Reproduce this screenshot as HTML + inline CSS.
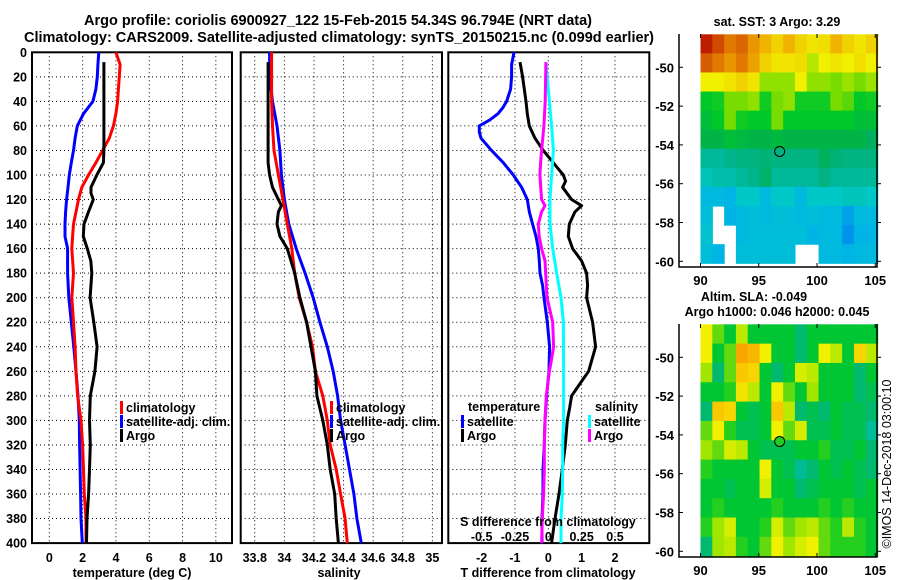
<!DOCTYPE html>
<html><head><meta charset="utf-8"><style>
html,body{margin:0;padding:0;background:#fff;}
svg{display:block;font-family:"Liberation Sans",Arial,sans-serif;font-weight:bold;}
</style></head><body>
<svg id="fig" width="900" height="580" viewBox="0 0 900 580" xmlns="http://www.w3.org/2000/svg">
<text x="338" y="25" font-size="14.5" text-anchor="middle" textLength="508" lengthAdjust="spacingAndGlyphs">Argo profile: coriolis 6900927_122 15-Feb-2015 54.34S 96.794E (NRT data)</text>
<text x="339" y="42" font-size="14.5" text-anchor="middle" textLength="630" lengthAdjust="spacingAndGlyphs">Climatology: CARS2009. Satellite-adjusted climatology: synTS_20150215.nc (0.099d earlier)</text>
<g id="layer"></g>
</svg>
<script>
// ---------- data ----------
const tDepth = [0,10,20,30,40,50,60,70,80,90,100,110,120,130,140,150,160,180,200,220,240,260,280,300,320,340,360,380,400];
const tClim  = [4.0,4.25,4.2,4.15,4.1,4.0,3.85,3.6,3.2,2.8,2.35,1.95,1.75,1.6,1.45,1.4,1.35,1.45,1.35,1.45,1.55,1.6,1.7,1.9,2.0,2.05,2.1,2.2,2.2];
const tSat   = [2.97,2.92,2.88,2.8,2.62,2.05,1.68,1.55,1.45,1.32,1.2,1.12,1.04,0.98,0.94,0.94,1.1,1.1,1.17,1.32,1.47,1.6,1.72,1.8,1.82,1.85,1.88,1.9,1.98];
const tArgoDepth = [8,20,40,60,80,90,100,110,115,120,130,140,150,160,170,180,200,220,240,260,280,300,320,340,360,380,400];
const tArgo  = [3.28,3.28,3.28,3.28,3.28,3.25,2.85,2.5,2.5,2.64,2.35,2.08,2.04,2.28,2.49,2.55,2.45,2.67,2.87,2.74,2.46,2.41,2.46,2.41,2.36,2.26,2.23];

const sDepth = [0,20,40,60,80,100,120,140,160,180,200,220,240,260,280,300,320,340,360,380,400];
const sClim  = [33.914,33.914,33.914,33.92,33.93,33.96,33.99,34.02,34.05,34.07,34.10,34.15,34.19,34.21,34.26,34.29,34.31,34.35,34.38,34.41,34.425];
const sSat   = [33.90,33.90,33.92,33.95,33.97,33.98,34.00,34.03,34.08,34.14,34.195,34.24,34.29,34.33,34.36,34.38,34.41,34.44,34.47,34.49,34.52];
const sArgoDepth = [8,20,60,90,100,110,120,125,130,140,150,160,180,200,220,240,260,280,300,320,340,360,380,400];
const sArgo  = [33.89,33.89,33.89,33.89,33.90,33.92,33.96,33.98,33.96,33.95,33.97,34.02,34.07,34.105,34.15,34.18,34.21,34.22,34.26,34.29,34.31,34.34,34.35,34.365];

const dtSatDepth = [0,10,20,30,40,45,50,55,60,65,70,80,90,100,110,120,130,140,150,160,170,180,190,200,220,240,260,280,300,320,340,360,380,400];
const dtSat  = [-1.03,-1.1,-1.1,-1.13,-1.25,-1.36,-1.51,-1.75,-2.07,-2.07,-2.02,-1.7,-1.35,-1.05,-0.8,-0.63,-0.57,-0.47,-0.37,-0.3,-0.27,-0.25,-0.17,-0.13,-0.03,0.04,0.02,-0.05,-0.1,-0.12,-0.16,-0.16,-0.19,-0.19];
const dtArgoDepth = [8,20,40,50,60,70,80,90,100,105,110,120,125,130,140,150,160,170,180,190,200,220,240,260,270,280,290,300,320,340,360,380,400];
const dtArgo = [-0.85,-0.77,-0.67,-0.63,-0.57,-0.4,-0.15,0.15,0.45,0.52,0.43,0.7,1.0,0.8,0.63,0.6,0.73,1.0,1.15,1.18,1.15,1.33,1.42,1.21,0.95,0.7,0.64,0.57,0.51,0.42,0.32,0.2,0.1];
const dsSatDepth = [8,40,60,80,100,120,140,160,180,200,220,260,300,320,340,360,380,400];
const dsSat  = [-0.018,0.008,0.025,0.038,0.025,0.013,0.013,0.033,0.063,0.095,0.113,0.115,0.115,0.108,0.108,0.105,0.095,0.095];
const dsArgoDepth = [8,40,60,80,90,100,120,125,130,140,150,160,170,200,220,240,250,260,280,300,320,340,360,380,400];
const dsArgo = [-0.018,-0.023,-0.033,-0.05,-0.058,-0.063,-0.05,-0.025,-0.05,-0.075,-0.068,-0.05,-0.025,-0.01,0.033,0.04,0.025,0.008,-0.015,-0.025,-0.03,-0.03,-0.035,-0.045,-0.05];

const depthTicks = [0,20,40,60,80,100,120,140,160,180,200,220,240,260,280,300,320,340,360,380,400];
const tTicks = [0,2,4,6,8,10];
const sTicks = [33.8,34,34.2,34.4,34.6,34.8,35];
const sTickLabels = ["33.8","34","34.2","34.4","34.6","34.8","35"];
const dTicks = [-2,-1,0,1,2];
const dsTicks = [-0.5,-0.25,0,0.25,0.5];
const dsTickLabels = ["-0.5","-0.25","0","0.25","0.5"];

// SST map grid (rows: lat -48.3 -> -60.1, cols: lon 90 -> 105.2); null = no data
const sstGrid = [
[9,8.5,8,8.2,7.5,7,6.5,7,6.5,6.2,6.3,7,6.5,6.2,6.5],
[8.3,8,7.5,8,7.3,6.5,6.2,6.2,6.3,5.5,6,6.2,6,6.3,6],
[6,6,6.2,6.5,6.2,5.2,5.2,5.2,6,5.2,5.2,5,5.3,5,5.3],
[4.2,4.3,5,5,5.2,4.3,5,5.2,4.3,4.3,4.3,5,4.8,4.2,4.3],
[4,4.2,5,4.3,4.2,4.2,5,4.2,4.2,4.2,4.2,4.2,4.2,4,4],
[3.8,3.8,4,3.9,3.8,3.8,3.9,3.8,3.8,3.8,3.8,3.8,3.8,3.8,3.6],
[3.1,3.1,3.2,3.3,3.3,3.4,3.3,3.3,3.3,3.3,3.6,3.4,3.3,3.3,3.3],
[2.9,3,3,3.1,3.2,3.5,3.1,3.1,3.1,3.1,3.3,3.1,3.1,3.1,3.1],
[2.5,2.5,2.4,2.8,2.8,2.5,2.8,2.8,2.5,2.8,2.8,2.8,2.9,2.9,2.8],
[2.6,null,2.4,2.5,2.6,2.5,2.6,2.6,2.5,2.6,2.5,2.5,2.3,2.5,2.5],
[2.7,null,null,2.5,2.6,2.6,2.6,2.6,2.6,2.4,2.5,2.5,2.2,2.4,2.4],
[2.6,2.4,null,2.6,2.6,2.6,2.6,2.6,null,null,2.5,2.5,2.4,2.5,2.5]
];
// SLA map grid, 0 = low (teal) -> 1 = high (orange)
const slaGrid = [
[0.7,0.5,0.4,0.6,0.4,0.4,0.4,0.4,0.3,0.4,0.4,0.4,0.4,0.4,0.4],
[0.7,0.4,0.5,0.95,0.9,0.7,0.4,0.4,0.3,0.4,0.7,0.6,0.4,0.8,0.6],
[0.55,0.3,0.5,0.85,0.8,0.4,0.3,0.4,0.65,0.6,0.4,0.4,0.4,0.3,0.4],
[0.4,0.4,0.45,0.75,0.6,0.4,0.7,0.5,0.4,0.55,0.4,0.4,0.4,0.3,0.35],
[0.3,0.85,0.8,0.4,0.35,0.4,0.85,0.6,0.3,0.35,0.3,0.4,0.35,0.35,0.3],
[0.5,0.7,0.45,0.35,0.35,0.4,0.7,0.5,0.65,0.35,0.35,0.4,0.35,0.35,0.2],
[0.55,0.5,0.65,0.6,0.4,0.35,0.35,0.35,0.4,0.4,0.45,0.35,0.35,0.4,0.3],
[0.45,0.4,0.4,0.4,0.4,0.7,0.4,0.35,0.2,0.3,0.4,0.35,0.4,0.35,0.3],
[0.4,0.4,0.35,0.4,0.4,0.65,0.4,0.4,0.3,0.35,0.4,0.4,0.4,0.35,0.4],
[0.4,0.45,0.4,0.4,0.4,0.4,0.45,0.4,0.4,0.4,0.45,0.4,0.45,0.4,0.4],
[0.45,0.55,0.65,0.4,0.4,0.45,0.65,0.5,0.55,0.6,0.5,0.45,0.6,0.45,0.4],
[0.3,0.55,0.6,0.45,0.4,0.5,0.7,0.55,0.65,0.7,0.5,0.45,0.45,0.45,0.4]
];
const argoLon = 96.794, argoLat = -54.34;
const mapLonTicks = [90,95,100,105];
const mapLatTicks = [-50,-52,-54,-56,-58,-60];

// ---------- drawing ----------
const NS = "http://www.w3.org/2000/svg";
const L = document.getElementById('layer');
function mk(tag, attrs, parent) {
  const e = document.createElementNS(NS, tag);
  for (const k in attrs) e.setAttribute(k, attrs[k]);
  (parent || L).appendChild(e);
  return e;
}
const yTop = 52.3, yPer = 1.227;
const yD = d => yTop + d * yPer;
const yBot = yD(400);

const panels = [
  {name:'temperature', x0:32, x1:232, vmin:-1.04, vmax:10.97},
  {name:'salinity', x0:240.7, x1:442, vmin:33.705, vmax:35.065},
  {name:'difference', x0:448.3, x1:649.3, vmin:-3.0, vmax:3.03}
];
function xs(p){ return v => p.x0 + (v - p.vmin) / (p.vmax - p.vmin) * (p.x1 - p.x0); }

function drawPanel(p, ticks, labels, pi) {
  const X = xs(p);
  const g = mk('g', {});
  
  
  // grid
  ticks.forEach(t => {
    const l = mk('line', {x1:X(t), x2:X(t), y1:yTop, y2:yBot, stroke:'#000', 'stroke-width':1, 'stroke-dasharray':'1,3'}, g);
    
    
  });
  depthTicks.forEach(d => {
    const l = mk('line', {x1:p.x0, x2:p.x1, y1:yD(d), y2:yD(d), stroke:'#000', 'stroke-width':1, 'stroke-dasharray':'1,3'}, g);
    
    
  });
  ticks.forEach((t,i) => {
    const tx = mk('text', {x:X(t), y:562, 'font-size':12.5, 'text-anchor':'middle'}, g);
    tx.textContent = labels[i];
    
    
  });
  const fr = mk('rect', {x:p.x0, y:yTop, width:p.x1-p.x0, height:yBot-yTop, fill:'none', stroke:'#000', 'stroke-width':2}, g);
  
  
  return {g, X};
}
function series(g, X, depths, vals, color, name, scale) {
  const pts = depths.map((d,i) => X(vals[i]*(scale||1)).toFixed(1) + ',' + yD(d).toFixed(1)).join(' ');
  const pl = mk('polyline', {points:pts, fill:'none', stroke:color, 'stroke-width':3, 'stroke-linejoin':'round'}, g);
  
  
}
function txt(g, x, y, s, opts, name) {
  const t = mk('text', Object.assign({x:x, y:y, 'font-size':12.5}, opts||{}), g);
  t.textContent = s;
  
  
  return t;
}
function legendEntry(g, x, y, color, label, name) {
  const r = mk('rect', {x:x, y:y-10, width:3, height:13, fill:color}, g);
  
  
  txt(g, x+6, y+1, label, {}, name);
}

// y labels (depth)
depthTicks.forEach(d => {
  const t = mk('text', {x:27, y:yD(d)+4.5, 'font-size':12.5, 'text-anchor':'end'});
  t.textContent = d;
  
  
});

// panel 1
let P = drawPanel(panels[0], tTicks, tTicks.map(String), 0);
series(P.g, P.X, tDepth, tSat, '#0000ff', 'temp-satellite-adj-line');
series(P.g, P.X, tDepth, tClim, '#ff0000', 'temp-climatology-line');
series(P.g, P.X, tArgoDepth, tArgo, '#000', 'temp-argo-line');
legendEntry(P.g, 120, 411, '#ff0000', 'climatology', 'legend-climatology');
legendEntry(P.g, 120, 425, '#0000ff', 'satellite-adj. clim.', 'legend-satellite-adj');
legendEntry(P.g, 120, 439, '#000', 'Argo', 'legend-argo');
txt(P.g, 132, 577, 'temperature (deg C)', {'text-anchor':'middle'}, 'x-axis-title-temperature');

// panel 2
P = drawPanel(panels[1], sTicks, sTickLabels, 1);
series(P.g, P.X, sDepth, sSat, '#0000ff', 'sal-satellite-adj-line');
series(P.g, P.X, sDepth, sClim, '#ff0000', 'sal-climatology-line');
series(P.g, P.X, sArgoDepth, sArgo, '#000', 'sal-argo-line');
legendEntry(P.g, 330, 411, '#ff0000', 'climatology', 'legend-climatology-2');
legendEntry(P.g, 330, 425, '#0000ff', 'satellite-adj. clim.', 'legend-satellite-adj-2');
legendEntry(P.g, 330, 439, '#000', 'Argo', 'legend-argo-2');
txt(P.g, 339, 577, 'salinity', {'text-anchor':'middle'}, 'x-axis-title-salinity');

// panel 3
P = drawPanel(panels[2], dTicks, dTicks.map(String), 2);
series(P.g, P.X, dtArgoDepth, dtArgo, '#000', 'tdiff-argo-line');
series(P.g, P.X, dsSatDepth, dsSat, '#00ffff', 'sdiff-satellite-line', 4);
series(P.g, P.X, dtSatDepth, dtSat, '#0000ff', 'tdiff-satellite-line');
series(P.g, P.X, dsArgoDepth, dsArgo, '#ff00ff', 'sdiff-argo-line', 4);
txt(P.g, 468, 411, 'temperature', {}, 'legend-title-temperature');
legendEntry(P.g, 461, 425, '#0000ff', 'satellite', 'legend-t-satellite');
legendEntry(P.g, 461, 439, '#000', 'Argo', 'legend-t-argo');
txt(P.g, 595, 411, 'salinity', {}, 'legend-title-salinity');
legendEntry(P.g, 588, 425, '#00ffff', 'satellite', 'legend-s-satellite');
legendEntry(P.g, 588, 439, '#ff00ff', 'Argo', 'legend-s-argo');
txt(P.g, 548, 526, 'S difference from climatology', {'text-anchor':'middle'}, 'secondary-axis-title');
dsTicks.forEach((t,i) => txt(P.g, P.X(t*4), 541, dsTickLabels[i], {'text-anchor':'middle'}, 'secondary-tick-label'));
txt(P.g, 548, 577, 'T difference from climatology', {'text-anchor':'middle'}, 'x-axis-title-tdiff');

// ---------- maps ----------
function sstColor(v){
  const stops = [[1,[0,0,160]],[1.8,[0,80,255]],[2.4,[0,180,230]],[2.8,[0,200,200]],[3.2,[0,180,140]],[3.7,[0,175,80]],[4.2,[0,200,40]],[5,[120,220,0]],[6,[240,240,0]],[7,[240,180,0]],[8,[225,120,0]],[9,[190,30,0]]];
  return interp(stops, v);
}
function slaColor(v){
  const stops = [[0.15,[0,190,170]],[0.3,[0,185,110]],[0.42,[0,200,40]],[0.55,[160,230,0]],[0.7,[240,240,0]],[0.85,[250,200,0]],[1,[245,150,0]]];
  return interp(stops, v);
}
function interp(stops, v){
  if (v <= stops[0][0]) return 'rgb('+stops[0][1]+')';
  for (let i=1;i<stops.length;i++){
    if (v <= stops[i][0]) {
      const f = (v - stops[i-1][0])/(stops[i][0]-stops[i-1][0]);
      const c = stops[i-1][1].map((a,k)=>Math.round(a+(stops[i][1][k]-a)*f));
      return 'rgb('+c+')';
    }
  }
  return 'rgb('+stops[stops.length-1][1]+')';
}
function drawMap(cfg){
  const g = mk('g', {});
  
  
  const lonX = lon => 700.5 + (lon-90)*11.65;
  const latY = lat => cfg.lat50 + (-50-lat)*19.4;
  const grid = cfg.grid, rows = grid.length, cols = grid[0].length;
  const x0 = lonX(90), x1 = lonX(105.2), y0 = latY(-48.3), y1 = latY(cfg.latBottom);
  const cw = (x1-x0)/cols, ch = (y1-y0)/rows;
  grid.forEach((row, r) => row.forEach((v, c) => {
    if (v === null) return;
    const cell = mk('rect', {x:x0+c*cw, y:y0+r*ch, width:cw+0.6, height:ch+0.6, fill:cfg.color(v)}, g);
    
    
  }));
  const fr = mk('path', {d:`M${cfg.fx0},${cfg.fy0} V${cfg.fy1} H${cfg.fx1} V${cfg.fy0}`, fill:'none', stroke:'#000', 'stroke-width':1.5}, g);
  
  
  mapLonTicks.forEach(l => {
    mk('line', {x1:lonX(l), x2:lonX(l), y1:cfg.fy1, y2:cfg.fy1-4, stroke:'#000'}, g);
    mk('line', {x1:lonX(l), x2:lonX(l), y1:cfg.fy0, y2:cfg.fy0+4, stroke:'#000'}, g);
    txt(g, lonX(l), cfg.fy1+18, String(l), {'text-anchor':'middle', 'font-size':13}, 'map-lon-label');
  });
  mapLatTicks.forEach(l => {
    mk('line', {x1:cfg.fx0, x2:cfg.fx0+4, y1:latY(l), y2:latY(l), stroke:'#000'}, g);
    mk('line', {x1:cfg.fx1, x2:cfg.fx1+4, y1:latY(l), y2:latY(l), stroke:'#000'}, g);
    txt(g, cfg.fx0-5, latY(l)+5, String(l), {'text-anchor':'end', 'font-size':13}, 'map-lat-label');
  });
  const c = mk('circle', {cx:lonX(argoLon), cy:latY(argoLat), r:5, fill:cfg.dotFill, stroke:'#000', 'stroke-width':1}, g);
  
  
  return g;
}
drawMap({name:'sst-map', grid:sstGrid, color:sstColor, lat50:67.3, latBottom:-60.1, fx0:679, fx1:877, fy0:34, fy1:267, dotFill:'none'});
drawMap({name:'sla-map', grid:slaGrid, color:slaColor, lat50:357.3, latBottom:-60.25, fx0:679, fx1:877, fy0:324, fy1:557, dotFill:'#22cc22'});
txt(L, 777, 26, 'sat. SST: 3 Argo: 3.29', {'text-anchor':'middle', 'font-size':12.5}, 'sst-map-title');
txt(L, 754, 301, 'Altim. SLA: -0.049', {'text-anchor':'middle', 'font-size':12.5}, 'sla-map-title');
txt(L, 777, 316, 'Argo h1000: 0.046 h2000: 0.045', {'text-anchor':'middle', 'font-size':12.5}, 'sla-map-subtitle');
const cp = txt(L, 0, 0, '©IMOS 14-Dec-2018 03:00:10', {'text-anchor':'middle', 'font-size':12.5, 'font-weight':'normal', transform:'translate(891,464) rotate(-90)'}, 'copyright-label');
</script>
</body></html>
